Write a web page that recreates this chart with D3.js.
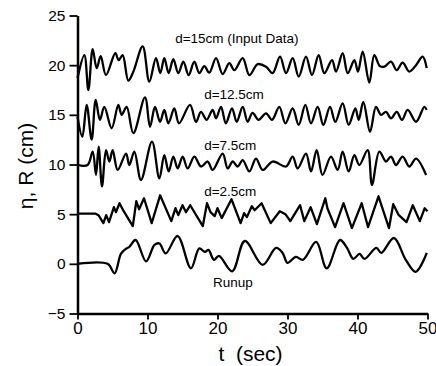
<!DOCTYPE html>
<html>
<head>
<meta charset="utf-8">
<script src="https://cdn.jsdelivr.net/npm/d3@7"></script>
<style>
  body { margin: 0; background: #fff; }
  figure { margin: 0; }
  svg { display: block; }
  text { font-family: "Liberation Sans", Arial, Helvetica, sans-serif; fill: #000; }
</style>
</head>
<body>
<figure></figure>
<script>
// wave records: [t (sec), eta or R (cm)]
var d15 = [[0,18.7],[0.98,21.0],[1.55,17.5],[2.17,21.6],[2.74,19.7],[3.31,20.9],[4.07,19.0],
  [5.4,21.2],[5.88,20.5],[6.45,21.0],[7.26,18.45],[7.98,19.35],[9.31,21.9],[10.26,18.35],
  [11.21,20.7],[11.83,19.2],[12.4,20.7],[13.02,19.2],[13.69,20.6],[14.4,19.2],[15.12,20.35],
  [15.88,19.0],[16.69,20.35],[17.4,19.2],[18.12,19.9],[18.83,19.25],[19.79,20.7],[20.74,19.1],
  [21.69,20.2],[22.4,19.5],[23.6,20.7],[24.55,19.0],[25.74,20.1],[26.93,19.85],[27.88,19.2],
  [28.93,20.85],[29.79,19.2],[30.74,20.7],[31.6,18.85],[32.64,20.85],[33.5,19.0],[34.45,21.0],
  [35.26,19.2],[36.36,20.5],[36.93,19.35],[37.88,21.2],[38.6,19.2],[39.55,20.5],[40.07,19.35],
  [40.74,21.35],[41.69,18.25],[42.4,21.0],[43.21,19.9],[43.83,19.85],[44.79,20.35],[45.6,19.5],
  [46.45,20.25],[47.4,19.35],[48.36,20.0],[49.31,20.85],[49.88,19.7]];

var d125 = [[0,14.8],[0.69,12.8],[1.31,16.0],[2.02,12.5],[2.6,16.5],[3.2,14.5],[3.83,15.8],
  [4.88,13.65],[5.83,16.0],[6.31,15.0],[7.02,15.8],[7.98,13.15],[9.64,16.75],[10.36,13.8],
  [11.07,15.8],[11.79,14.3],[12.4,15.5],[12.98,14.15],[13.83,15.65],[14.5,14.15],[16.07,16.0],
  [16.93,14.3],[17.64,15.3],[18.45,14.5],[19.31,15.5],[19.79,14.65],[20.5,15.8],[21.2,14.15],
  [22.07,15.65],[22.74,14.3],[23.6,15.8],[24.31,14.3],[25.0,15.2],[25.88,14.5],[26.93,15.15],
  [27.79,14.5],[28.83,15.8],[29.7,14.15],[30.74,15.65],[31.6,14.0],[32.55,16.0],[33.36,14.15],
  [34.31,15.8],[35.12,14.0],[36.07,15.8],[36.83,14.3],[37.88,16.15],[38.74,14.0],[39.69,15.65],
  [40.17,14.5],[40.83,16.3],[41.79,13.3],[42.64,15.8],[43.36,15.0],[44.07,15.3],[44.79,14.65],
  [45.6,15.3],[46.36,14.5],[47.17,15.5],[48.36,14.3],[49.55,15.8],[49.88,15.5]];

var d75 = [[0,9.95],[1.45,9.95],[2.17,11.3],[2.64,8.95],[3.02,11.8],[3.5,7.8],[4.07,11.45],
  [4.55,10.3],[5.02,11.45],[5.74,9.45],[6.93,11.1],[7.4,9.95],[8.12,11.3],[9.07,8.45],
  [10.64,12.3],[11.69,8.6],[12.4,10.95],[13.02,9.3],[13.69,10.8],[14.31,9.6],[15.02,10.8],
  [15.74,9.6],[16.69,10.8],[17.64,9.8],[18.6,10.3],[19.31,9.45],[20.74,11.1],[21.45,9.6],
  [22.17,10.3],[22.88,9.8],[23.6,10.45],[24.55,9.3],[25.5,10.6],[26.45,9.45],[27.88,10.3],
  [29.79,9.8],[30.74,10.8],[31.45,9.6],[32.64,11.1],[33.36,9.3],[34.17,11.45],[35.0,8.95],
  [36.21,10.8],[37.17,9.45],[37.88,11.3],[38.74,9.3],[39.55,10.95],[40.26,9.95],[41.45,11.45],
  [42.07,7.95],[43.12,11.3],[44.07,10.3],[44.79,10.8],[45.5,9.95],[46.45,10.8],[47.4,9.8],
  [48.36,10.6],[49.8,8.95]];

var d25 = [[0,5.05],[2.6,5.05],[3.0,4.9],[3.7,4.1],[4.1,4.9],[4.5,4.2],[5.2,5.7],[5.5,5.2],
  [6.0,6.1],[6.6,5.3],[7.9,3.8],[8.4,6.3],[8.8,5.5],[9.5,6.6],[10.6,4.1],[11.8,6.9],[13.4,4.3],
  [14.0,5.6],[14.4,4.9],[15.0,5.9],[15.5,5.2],[16.1,5.9],[17.9,3.8],[18.5,6.1],[19.0,5.2],
  [19.6,4.8],[20.0,5.6],[20.6,4.6],[22.0,6.5],[23.3,4.1],[23.8,5.1],[24.2,4.7],[24.9,5.8],
  [25.3,5.4],[26.3,6.1],[27.6,4.1],[28.9,5.3],[29.7,5.0],[30.4,4.3],[31.8,5.9],[32.4,4.3],
  [33.3,5.7],[34.2,4.0],[35.4,6.6],[35.7,5.6],[36.8,3.7],[38.0,6.1],[39.2,3.6],[40.6,6.1],
  [41.5,3.7],[43.0,6.8],[44.5,3.6],[45.1,6.0],[45.9,4.9],[47.0,4.2],[47.9,5.9],[48.9,4.3],
  [49.6,5.6],[50,5.3]];

var runup = [[0,0],[4.3,0],[5.3,-0.95],[6.2,1.0],[6.9,1.5],[7.4,1.7],[8.3,2.4],[9.8,0.25],
  [11.0,1.9],[11.7,2.05],[12.6,1.05],[14.3,2.8],[16.2,-0.45],[17.4,1.55],[18.2,1.2],[18.7,1.4],
  [19.5,0.4],[20.2,0.8],[22.1,-0.75],[23.9,2.3],[26.45,-0.1],[28.36,1.6],[29.3,1.1],[30.0,0.1],
  [31.2,0.7],[32.2,0.4],[34.1,2.2],[35.6,-0.45],[37.5,2.4],[38.5,1.6],[39.4,0.5],[40.3,1.0],
  [41.0,0.5],[42.7,1.6],[43.4,1.1],[45.2,2.6],[46.9,0.4],[48.3,-0.8],[49.9,1.1]];

var xTicks = [0, 10, 20, 30, 40, 50];
var yTicks = [-5, 0, 5, 10, 15, 20, 25];
var seriesNames = ["d=15cm (Input Data)", "d=12.5cm", "d=7.5cm", "d=2.5cm", "Runup"];

var W = 436, H = 366;
var margin = {top: 15.5, right: 8.5, bottom: 52.5, left: 77.5},
    width = W - margin.left - margin.right,
    height = H - margin.top - margin.bottom;

var svg = d3.select("figure").append("svg")
    .attr("width", W)
    .attr("height", H)
  .append("g")
    .attr("transform", "translate(" + margin.left + "," + margin.top + ")");

var x = d3.scaleLinear().domain([0, 50]).range([0, width]);
var y = d3.scaleLinear().domain([-5, 25]).range([height, 0]);

// x axis
var gx = svg.append("g")
    .attr("transform", "translate(0," + height + ")")
    .call(d3.axisBottom(x).tickValues(xTicks).tickSize(6).tickSizeOuter(0).tickPadding(2));
gx.selectAll("text").style("font-size", "17px");

// y axis
var gy = svg.append("g")
    .call(d3.axisLeft(y).tickValues(yTicks).tickSize(8).tickSizeOuter(0).tickPadding(4));
gy.selectAll("text").style("font-size", "15.5px");

svg.selectAll(".domain").attr("stroke", "#000").attr("stroke-width", 2.5);
svg.selectAll(".tick line").attr("stroke", "#000").attr("stroke-width", 1.8);

// axis titles
svg.append("text")
    .attr("x", width / 2 - 2)
    .attr("y", height + 47)
    .attr("text-anchor", "middle")
    .style("font-size", "21px")
    .text("t\u00a0\u00a0(sec)");

svg.append("text")
    .attr("transform", "translate(" + (33 - margin.left) + "," + (166 - margin.top) + ") rotate(-90)")
    .attr("text-anchor", "middle")
    .style("font-size", "21px")
    .text("\u03b7, R (cm)");

// wave lines
var smooth = d3.line()
    .x(function(d) { return x(d[0]); })
    .y(function(d) { return y(d[1]); })
    .curve(d3.curveCatmullRom.alpha(0.5));

var sharp = d3.line()
    .x(function(d) { return x(d[0]); })
    .y(function(d) { return y(d[1]); });

var lines = svg.append("g")
    .attr("fill", "none")
    .attr("stroke", "#000")
    .attr("stroke-width", 2.3)
    .attr("stroke-linejoin", "round");

[d15, d125, d75, runup].forEach(function(s) {
  lines.append("path").datum(s).attr("d", smooth);
});
lines.append("path").datum(d25).attr("d", sharp);

// series labels (anchor in data units)
var labelAt = [[13.95, 22.25], [18.1, 16.6], [18.1, 11.45], [18.1, 6.8], [19.35, -2.35]];
svg.selectAll(".lab")
    .data(seriesNames)
  .enter().append("text")
    .attr("class", "lab")
    .attr("x", function(d, i) { return x(labelAt[i][0]); })
    .attr("y", function(d, i) { return y(labelAt[i][1]); })
    .style("font-size", "13.5px")
    .text(function(d) { return d; });
</script>
</body>
</html>
